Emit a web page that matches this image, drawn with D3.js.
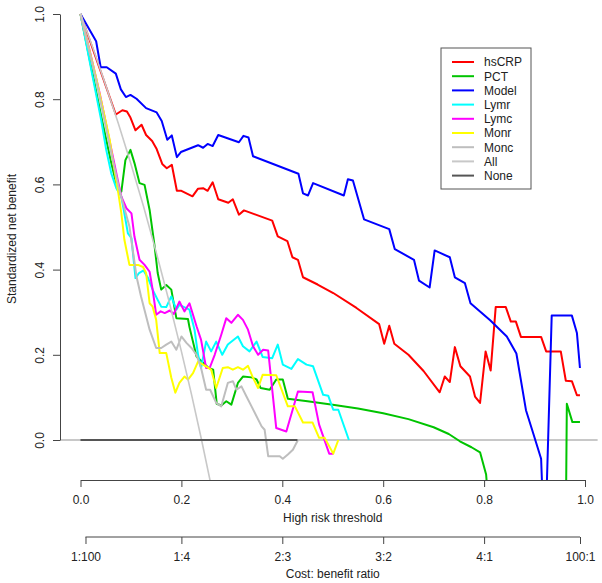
<!DOCTYPE html>
<html><head><meta charset="utf-8">
<script src="https://cdn.jsdelivr.net/npm/d3@7"></script>
<style>
body{margin:0;background:#fff;}
text{font-family:"Liberation Sans",Arial,Helvetica,sans-serif;}
</style></head>
<body><svg id="c" width="602" height="583"></svg>
<script>
// ---- data (threshold, standardized net benefit) ----
const hsCRP = [[0,1],[0.070,0.764],[0.083,0.774],[0.092,0.771],[0.099,0.757],[0.109,0.727],[0.121,0.740],[0.130,0.716],[0.142,0.702],[0.151,0.683],[0.162,0.648],[0.171,0.638],[0.181,0.646],[0.191,0.585],[0.200,0.585],[0.222,0.572],[0.233,0.590],[0.243,0.591],[0.252,0.585],[0.262,0.605],[0.273,0.565],[0.293,0.557],[0.302,0.565],[0.314,0.529],[0.324,0.539],[0.380,0.515],[0.391,0.478],[0.410,0.467],[0.420,0.429],[0.431,0.423],[0.441,0.382],[0.470,0.365],[0.501,0.345],[0.547,0.310],[0.592,0.272],[0.602,0.226],[0.612,0.268],[0.622,0.226],[0.650,0.200],[0.680,0.162],[0.712,0.112],[0.722,0.149],[0.732,0.136],[0.742,0.218],[0.753,0.173],[0.772,0.149],[0.782,0.102],[0.792,0.087],[0.803,0.208],[0.813,0.163],[0.823,0.312],[0.843,0.312],[0.853,0.278],[0.863,0.278],[0.873,0.242],[0.913,0.242],[0.923,0.208],[0.952,0.208],[0.962,0.139],[0.974,0.138],[0.984,0.105],[0.990,0.105]];
const PCT = [[0,1],[0.041,0.760],[0.061,0.650],[0.074,0.587],[0.081,0.583],[0.089,0.657],[0.099,0.681],[0.107,0.650],[0.117,0.603],[0.127,0.599],[0.137,0.540],[0.147,0.454],[0.153,0.392],[0.160,0.353],[0.170,0.364],[0.180,0.353],[0.190,0.286],[0.213,0.284],[0.216,0.265],[0.230,0.196],[0.253,0.170],[0.263,0.165],[0.270,0.085],[0.279,0.081],[0.289,0.091],[0.299,0.083],[0.312,0.134],[0.322,0.149],[0.339,0.147],[0.349,0.142],[0.357,0.122],[0.375,0.118],[0.388,0.142],[0.401,0.142],[0.411,0.097],[0.45,0.091],[0.50,0.083],[0.55,0.074],[0.60,0.063],[0.65,0.049],[0.70,0.030],[0.73,0.014],[0.752,-0.003],[0.775,-0.017],[0.792,-0.029],[0.804,-0.081],[0.812,-0.2],[0.962,-0.2],[0.964,0.085],[0.975,0.042],[0.990,0.042]];
const Model = [[0,1],[0.031,0.936],[0.040,0.875],[0.052,0.875],[0.070,0.860],[0.080,0.823],[0.090,0.805],[0.099,0.810],[0.111,0.801],[0.130,0.779],[0.151,0.769],[0.161,0.749],[0.172,0.705],[0.181,0.715],[0.191,0.664],[0.199,0.676],[0.233,0.692],[0.243,0.686],[0.252,0.695],[0.262,0.690],[0.273,0.716],[0.314,0.699],[0.323,0.714],[0.333,0.710],[0.342,0.666],[0.432,0.625],[0.441,0.579],[0.451,0.574],[0.461,0.603],[0.522,0.574],[0.530,0.612],[0.540,0.609],[0.562,0.518],[0.612,0.495],[0.623,0.448],[0.661,0.423],[0.671,0.374],[0.692,0.358],[0.702,0.445],[0.732,0.429],[0.742,0.382],[0.762,0.368],[0.773,0.321],[0.812,0.281],[0.845,0.243],[0.864,0.203],[0.883,0.070],[0.897,0.017],[0.913,-0.044],[0.918,-0.2],[0.922,-0.2],[0.934,0.292],[0.974,0.292],[0.984,0.251],[0.990,0.169]];
const Lymr = [[0,1],[0.024,0.853],[0.041,0.751],[0.051,0.681],[0.061,0.626],[0.071,0.591],[0.081,0.571],[0.094,0.485],[0.101,0.474],[0.109,0.380],[0.116,0.392],[0.125,0.398],[0.134,0.380],[0.143,0.353],[0.153,0.329],[0.160,0.313],[0.170,0.312],[0.180,0.337],[0.190,0.306],[0.196,0.317],[0.216,0.306],[0.226,0.259],[0.233,0.200],[0.239,0.169],[0.249,0.231],[0.259,0.208],[0.269,0.231],[0.281,0.200],[0.292,0.224],[0.312,0.243],[0.322,0.220],[0.335,0.208],[0.349,0.231],[0.361,0.195],[0.380,0.192],[0.391,0.224],[0.401,0.177],[0.418,0.167],[0.431,0.190],[0.448,0.177],[0.461,0.173],[0.481,0.106],[0.491,0.104],[0.501,0.071],[0.511,0.071],[0.532,0.0]];
const Lymc = [[0,1],[0.018,0.915],[0.038,0.814],[0.071,0.626],[0.081,0.571],[0.091,0.544],[0.101,0.532],[0.107,0.477],[0.117,0.423],[0.127,0.411],[0.137,0.395],[0.143,0.353],[0.150,0.294],[0.159,0.302],[0.167,0.298],[0.177,0.304],[0.185,0.296],[0.196,0.325],[0.206,0.302],[0.216,0.321],[0.230,0.267],[0.239,0.235],[0.249,0.169],[0.256,0.169],[0.266,0.200],[0.279,0.247],[0.289,0.286],[0.299,0.275],[0.312,0.294],[0.322,0.282],[0.332,0.259],[0.342,0.220],[0.352,0.200],[0.362,0.212],[0.372,0.210],[0.388,0.028],[0.408,0.020],[0.431,0.114],[0.460,0.112],[0.473,0.036],[0.493,-0.032],[0.501,-0.032]];
const Monr = [[0,1],[0.030,0.855],[0.058,0.704],[0.064,0.657],[0.074,0.587],[0.081,0.532],[0.087,0.470],[0.097,0.411],[0.114,0.411],[0.124,0.406],[0.130,0.392],[0.137,0.321],[0.143,0.313],[0.150,0.282],[0.157,0.204],[0.170,0.204],[0.180,0.146],[0.188,0.111],[0.196,0.134],[0.206,0.149],[0.213,0.142],[0.223,0.157],[0.233,0.184],[0.243,0.177],[0.259,0.165],[0.269,0.122],[0.282,0.169],[0.292,0.171],[0.302,0.165],[0.312,0.171],[0.322,0.165],[0.332,0.174],[0.342,0.146],[0.352,0.122],[0.361,0.153],[0.388,0.152],[0.411,0.079],[0.425,0.079],[0.441,0.041],[0.460,0.041],[0.473,0.005],[0.484,0.005],[0.501,-0.032],[0.511,0.0]];
const Monc = [[0,1],[0.030,0.850],[0.058,0.690],[0.077,0.587],[0.097,0.501],[0.111,0.384],[0.120,0.337],[0.137,0.259],[0.150,0.216],[0.160,0.216],[0.170,0.224],[0.180,0.231],[0.190,0.212],[0.200,0.243],[0.210,0.228],[0.220,0.216],[0.230,0.200],[0.239,0.169],[0.249,0.118],[0.257,0.118],[0.269,0.087],[0.279,0.079],[0.292,0.134],[0.302,0.138],[0.309,0.118],[0.319,0.126],[0.329,0.102],[0.339,0.079],[0.359,0.032],[0.365,0.024],[0.372,-0.038],[0.395,-0.038],[0.401,-0.044],[0.411,-0.034],[0.421,-0.023],[0.431,0.0]];
const All = [[0,1],[0.025,0.919],[0.05,0.833],[0.075,0.743],[0.10,0.648],[0.125,0.548],[0.15,0.441],[0.175,0.328],[0.20,0.208],[0.22,0.107],[0.24,0.0],[0.26,-0.113]];
const None = [[0,0],[0.43,0]];
const seriesNames = ["hsCRP","PCT","Model","Lymr","Lymc","Monr","Monc","All","None"];
const seriesData = [hsCRP,PCT,Model,Lymr,Lymc,Monr,Monc,All,None];
const seriesColors = ["#FF0000","#00C400","#0000FF","#00FFFF","#FF00FF","#FFFF00","#BEBEBE","#C8C8C8","#555555"];
const xTicks = [0,0.2,0.4,0.6,0.8,1.0];
const yTicks = [0,0.2,0.4,0.6,0.8,1.0];
const ratioTicks = [1/101,0.2,0.4,0.6,0.8,100/101];
const ratioLabels = ["1:100","1:4","2:3","3:2","4:1","100:1"];

// ---- drawing ----
const svg = d3.select("#c");
const x = d3.scaleLinear().domain([0,1]).range([80.5,585]);
const y = d3.scaleLinear().domain([0,1]).range([440,14]);
const axisY = 480;
const ink = "#222";

svg.append("defs").append("clipPath").attr("id","clip")
  .append("rect").attr("x",0).attr("y",0).attr("width",602).attr("height",axisY);

const plot = svg.append("g").attr("clip-path","url(#clip)");
// reference line at 0 across plot region
plot.append("line").attr("x1",x(-0.04)).attr("x2",x(1.025)).attr("y1",y(0)).attr("y2",y(0))
  .attr("stroke","#C8C8C8").attr("stroke-width",2);

const line = d3.line().x(d=>x(d[0])).y(d=>y(d[1]));
seriesData.forEach((d,i)=>{
  plot.append("path").datum(d).attr("d",line).attr("fill","none")
    .attr("stroke",seriesColors[i]).attr("stroke-width", i===7?1.6:2)
    .attr("stroke-linejoin","round");
});

// x axis
const gx = svg.append("g").attr("transform",`translate(0,${axisY})`)
  .call(d3.axisBottom(x).tickValues(xTicks).tickFormat(d3.format(".1f")).tickSize(7).tickSizeOuter(0).tickPadding(8));
gx.selectAll("text").attr("font-size",12).attr("fill",ink).attr("font-family","Liberation Sans, Arial");
gx.selectAll("path,line").attr("stroke","#444");
svg.append("text").attr("x",x(0.5)).attr("y",522).attr("text-anchor","middle").attr("font-size",12).attr("fill",ink).text("High risk threshold");

// second axis
const g2 = svg.append("g").attr("transform","translate(0,537)")
  .call(d3.axisBottom(x).tickValues(ratioTicks).tickFormat((d,i)=>ratioLabels[i]).tickSize(7).tickSizeOuter(0).tickPadding(8));
g2.select(".domain").attr("d",`M${x(ratioTicks[0])},0H${x(ratioTicks[5])}`);
g2.selectAll("text").attr("font-size",12).attr("fill",ink).attr("font-family","Liberation Sans, Arial");
g2.selectAll("path,line").attr("stroke","#444");
svg.append("text").attr("x",x(0.5)).attr("y",578).attr("text-anchor","middle").attr("font-size",12).attr("fill",ink).text("Cost: benefit ratio");

// y axis
const gy = svg.append("g").attr("transform","translate(60,0)")
  .call(d3.axisLeft(y).tickValues(yTicks).tickSize(7).tickSizeOuter(0).tickFormat(""));
gy.selectAll("path,line").attr("stroke","#444");
gy.selectAll(".tick").append("text").attr("transform","translate(-16,0) rotate(-90)")
  .attr("text-anchor","middle").attr("font-size",12).attr("fill",ink).text(d=>d3.format(".1f")(d));
svg.append("text").attr("transform","translate(16,239) rotate(-90)").attr("text-anchor","middle")
  .attr("font-size",12).attr("fill",ink).text("Standardized net benefit");

// legend
const lg = svg.append("g");
lg.append("rect").attr("x",441).attr("y",48).attr("width",90).attr("height",141)
  .attr("fill","#fff").attr("stroke","#555").attr("stroke-width",1);
seriesNames.forEach((n,i)=>{
  const yy = 62 + i*14.2;
  lg.append("line").attr("x1",452).attr("x2",474).attr("y1",yy).attr("y2",yy)
    .attr("stroke",seriesColors[i]).attr("stroke-width",2);
  lg.append("text").attr("x",484).attr("y",yy+4.3).attr("font-size",12).attr("fill",ink).text(n);
});
</script></body></html>
